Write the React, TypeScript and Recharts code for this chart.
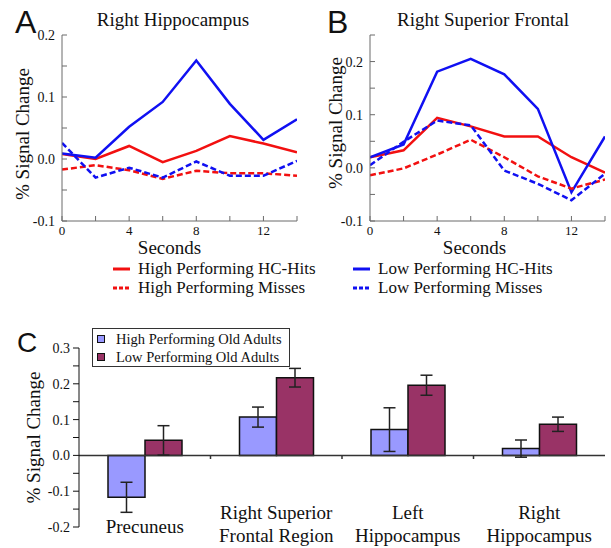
import React from 'react';
import { LineChart, Line, XAxis, YAxis, BarChart, Bar, ErrorBar, ReferenceLine, Legend } from 'recharts';

const SERIF = '"Liberation Serif", "Times New Roman", serif';
const SANS = '"Liberation Sans", Arial, sans-serif';

const SECONDS = [0, 2, 4, 6, 8, 10, 12, 14];

// Right Hippocampus (panel A)
const HIPPO_HIGH_HITS = [0.008, 0.0, 0.021, -0.005, 0.013, 0.037, 0.025, 0.011];
const HIPPO_HIGH_MISSES = [-0.017, -0.01, -0.018, -0.032, -0.019, -0.023, -0.023, -0.027];
const HIPPO_LOW_HITS = [0.009, 0.002, 0.052, 0.092, 0.159, 0.089, 0.031, 0.064];
const HIPPO_LOW_MISSES = [0.026, -0.03, -0.014, -0.03, -0.004, -0.027, -0.027, -0.003];

// Right Superior Frontal (panel B)
const FRONTAL_HIGH_HITS = [0.02, 0.033, 0.094, 0.078, 0.059, 0.059, 0.02, -0.009];
const FRONTAL_HIGH_MISSES = [-0.014, -0.001, 0.025, 0.053, 0.02, -0.016, -0.039, -0.022];
const FRONTAL_LOW_HITS = [0.02, 0.044, 0.181, 0.205, 0.176, 0.111, -0.046, 0.059];
const FRONTAL_LOW_MISSES = [0.005, 0.049, 0.089, 0.08, -0.005, -0.03, -0.061, -0.011];

const HIPPO_Y_TICKS = [-0.1, -0.05, 0, 0.05, 0.1, 0.15, 0.2];
const FRONTAL_Y_TICKS = [-0.1, -0.05, 0, 0.05, 0.1, 0.15, 0.2, 0.25];

// panel C
const REGIONS = ['Precuneus', 'Right Superior\nFrontal Region', 'Left\nHippocampus', 'Right\nHippocampus'];
const HIGH_OLD = [-0.117, 0.107, 0.072, 0.019];
const HIGH_OLD_ERR = [0.042, 0.028, 0.061, 0.024];
const LOW_OLD = [0.042, 0.217, 0.196, 0.087];
const LOW_OLD_ERR = [0.041, 0.026, 0.028, 0.02];
const BAR_Y_TICKS = [-0.2, -0.15, -0.1, -0.05, 0, 0.05, 0.1, 0.15, 0.2, 0.25, 0.3];
const REGION_BOUNDS = [1, 2, 3];

const RED = '#f21010';
const BLUE = '#1010f2';
const FRAME = '#6a6a6a';

const LINE_STYLE: Record<string, { name: string; color: string; dash?: string }> = {
  highHits: { name: 'High Performing HC-Hits', color: RED },
  lowHits: { name: 'Low Performing HC-Hits', color: BLUE },
  highMisses: { name: 'High Performing Misses', color: RED, dash: '6 3' },
  lowMisses: { name: 'Low Performing Misses', color: BLUE, dash: '6 3' },
};

const makeRows = (hh: number[], hm: number[], lh: number[], lm: number[]) =>
  SECONDS.map((t, i) => ({ t, highHits: hh[i], lowHits: lh[i], highMisses: hm[i], lowMisses: lm[i] }));

const hippoRows = makeRows(HIPPO_HIGH_HITS, HIPPO_HIGH_MISSES, HIPPO_LOW_HITS, HIPPO_LOW_MISSES);
const frontalRows = makeRows(FRONTAL_HIGH_HITS, FRONTAL_HIGH_MISSES, FRONTAL_LOW_HITS, FRONTAL_LOW_MISSES);

const barRows = REGIONS.map((region, i) => ({
  region,
  pos: i + 0.5,
  high: HIGH_OLD[i],
  highErr: HIGH_OLD_ERR[i],
  low: LOW_OLD[i],
  lowErr: LOW_OLD_ERR[i],
}));

const isMajor = (v: number) => Math.abs(v * 10 - Math.round(v * 10)) < 1e-6;
const fmtSignal = (v: number) => (isMajor(v) ? v.toFixed(1) : '');
const fmtSeconds = (v: number) => (v % 4 === 0 ? String(v) : '');

const LineLegend = () => (
  <div
    style={{
      display: 'grid',
      gridTemplateColumns: '240px 220px',
      gridAutoRows: '19px',
      fontFamily: SERIF,
      fontSize: 17,
      color: '#111',
    }}
  >
    {Object.keys(LINE_STYLE).map((k) => {
      const s = LINE_STYLE[k];
      return (
        <div key={k} style={{ display: 'flex', alignItems: 'center', whiteSpace: 'nowrap' }}>
          <svg width={25} height={8}>
            <line x1={0} x2={17} y1={4} y2={4} stroke={s.color} strokeWidth={3} strokeDasharray={s.dash ? '4 2' : undefined} />
          </svg>
          <span>{s.name}</span>
        </div>
      );
    })}
  </div>
);

const BarLegend = () => (
  <div
    style={{
      border: '1.5px solid #333',
      width: 192,
      height: 36,
      padding: '1px 0 0 4px',
      fontFamily: SERIF,
      fontSize: 14.5,
      color: '#111',
      background: '#fff',
      boxSizing: 'content-box',
    }}
  >
    {[
      { name: 'High Performing Old Adults', fill: '#9999ff' },
      { name: 'Low Performing Old Adults', fill: '#993366' },
    ].map((it) => (
      <div key={it.name} style={{ display: 'flex', alignItems: 'center', height: 18, whiteSpace: 'nowrap' }}>
        <span
          style={{
            display: 'inline-block',
            width: 6,
            height: 6,
            border: '1px solid #111',
            background: it.fill,
            marginRight: 11,
          }}
        />
        <span>{it.name}</span>
      </div>
    ))}
  </div>
);

const RegionTick = (props: any) => {
  const { x, y, payload } = props;
  const lines = String(payload.value).split('\n');
  const offsets = lines.length === 1 ? [-1] : [-15, 8];
  return (
    <g>
      {lines.map((l, i) => (
        <text
          key={i}
          x={x}
          y={y + offsets[i]}
          textAnchor="middle"
          dominantBaseline="central"
          fontFamily={SERIF}
          fontSize={19}
          fill="#111"
        >
          {l}
        </text>
      ))}
    </g>
  );
};

type PanelProps = {
  rows: any[];
  width: number;
  axisWidth: number;
  rightGap: number;
  yDomain: [number, number];
  yTicks: number[];
  labelOffset: number;
  labelDy: number;
  secondsDx: number;
  withLegend?: boolean;
};

const TimeCoursePanel = ({ rows, width, axisWidth, rightGap, yDomain, yTicks, labelOffset, labelDy, secondsDx, withLegend }: PanelProps) => (
  <LineChart width={width} height={260} data={rows} margin={{ top: 35, right: rightGap, bottom: 0, left: 0 }}>
    <XAxis
      xAxisId="bottom"
      dataKey="t"
      type="number"
      domain={[0, 14]}
      allowDataOverflow
      ticks={SECONDS}
      tickFormatter={fmtSeconds}
      height={39}
      tickSize={-5}
      tickMargin={10}
      stroke={FRAME}
      tick={{ fill: '#111', fontSize: 13, fontFamily: SERIF }}
      label={{ value: 'Seconds', position: 'insideBottom', offset: 6, dx: secondsDx, fill: '#111', fontSize: 19, fontFamily: SERIF }}
    />
    <XAxis
      xAxisId="top"
      orientation="top"
      dataKey="t"
      type="number"
      domain={[0, 14]}
      allowDataOverflow
      ticks={SECONDS}
      height={0}
      tickSize={-5}
      tick={false}
      stroke={FRAME}
    />
    <YAxis
      yAxisId="left"
      type="number"
      domain={yDomain}
      allowDataOverflow
      ticks={yTicks}
      tickFormatter={fmtSignal}
      width={axisWidth}
      tickSize={-5}
      tickMargin={12}
      stroke={FRAME}
      tick={{ fill: '#111', fontSize: 14, fontFamily: SERIF }}
      label={{
        value: '% Signal Change',
        angle: -90,
        position: 'insideLeft',
        offset: labelOffset,
        dy: labelDy,
        fill: '#111',
        fontSize: 19,
        fontFamily: SERIF,
        style: { textAnchor: 'middle' },
      }}
    />
    <YAxis
      yAxisId="right"
      orientation="right"
      type="number"
      domain={yDomain}
      allowDataOverflow
      ticks={yTicks}
      width={0}
      tickSize={-5}
      tick={false}
      stroke={FRAME}
    />
    {Object.keys(LINE_STYLE).map((k) => (
      <Line
        key={k}
        xAxisId="bottom"
        yAxisId="left"
        type="linear"
        dataKey={k}
        name={LINE_STYLE[k].name}
        stroke={LINE_STYLE[k].color}
        strokeWidth={2.5}
        strokeDasharray={LINE_STYLE[k].dash}
        dot={false}
        isAnimationActive={false}
      />
    ))}
    {withLegend && (
      <Legend
        layout="vertical"
        align="center"
        verticalAlign="middle"
        content={() => <LineLegend />}
        wrapperStyle={{ left: 113, top: 259.5, width: 480, height: 38 }}
      />
    )}
  </LineChart>
);

export default function App() {
  return (
    <div style={{ position: 'absolute', left: 0, top: 0, width: 611, height: 548, background: '#fff', overflow: 'hidden' }}>
      <div style={{ position: 'absolute', left: 0, top: 0 }}>
        <TimeCoursePanel
          rows={hippoRows}
          width={305}
          axisWidth={62}
          rightGap={8}
          yDomain={[-0.1, 0.2]}
          yTicks={HIPPO_Y_TICKS}
          labelOffset={22}
          labelDy={6}
          secondsDx={-10}
          withLegend
        />
      </div>
      <div style={{ position: 'absolute', left: 305, top: 0 }}>
        <TimeCoursePanel
          rows={frontalRows}
          width={306}
          axisWidth={65}
          rightGap={6}
          yDomain={[-0.1, 0.25]}
          yTicks={FRONTAL_Y_TICKS}
          labelOffset={30}
          labelDy={-5}
          secondsDx={-13}
        />
      </div>
      <div style={{ position: 'absolute', left: 0, top: 300 }}>
        <BarChart width={611} height={248} data={barRows} margin={{ top: 48, right: 6, bottom: 0, left: 0 }} barGap={0} barSize={37}>
          <XAxis dataKey="region" height={21} axisLine={false} tickLine={false} tickSize={0} tickMargin={0} interval={0} tick={<RegionTick />} />
          <XAxis xAxisId="pos" type="number" dataKey="pos" domain={[0, 4]} allowDataOverflow hide />
          <YAxis
            type="number"
            domain={[-0.2, 0.3]}
            allowDataOverflow
            ticks={BAR_Y_TICKS}
            tickFormatter={fmtSignal}
            width={79}
            tickSize={6}
            tickMargin={3}
            stroke="#111"
            tick={{ fill: '#111', fontSize: 14, fontFamily: SERIF }}
            label={{
              value: '% Signal Change',
              angle: -90,
              position: 'insideLeft',
              offset: 33,
              fill: '#111',
              fontSize: 19,
              fontFamily: SERIF,
              style: { textAnchor: 'middle' },
            }}
          />
          <ReferenceLine y={0} stroke="#333" strokeWidth={1.5} />
          {REGION_BOUNDS.map((b) => (
            <ReferenceLine
              key={b}
              xAxisId="pos"
              segment={[
                { x: b, y: 0 },
                { x: b, y: -0.01 },
              ]}
              stroke="#333"
              strokeWidth={1.5}
            />
          ))}
          <Bar dataKey="high" name="High Performing Old Adults" fill="#9999ff" stroke="#111" strokeWidth={1.5} isAnimationActive={false}>
            <ErrorBar dataKey="highErr" direction="y" width={6} stroke="#222" strokeWidth={1.5} />
          </Bar>
          <Bar dataKey="low" name="Low Performing Old Adults" fill="#993366" stroke="#111" strokeWidth={1.5} isAnimationActive={false}>
            <ErrorBar dataKey="lowErr" direction="y" width={6} stroke="#222" strokeWidth={1.5} />
          </Bar>
          <Legend
            layout="vertical"
            align="center"
            verticalAlign="middle"
            content={() => <BarLegend />}
            wrapperStyle={{ left: 92, top: 28, width: 200, height: 40 }}
          />
        </BarChart>
      </div>
      <svg width={611} height={548} style={{ position: 'absolute', left: 0, top: 0, pointerEvents: 'none' }}>
        <text x={15} y={33} fontFamily={SANS} fontSize={32} fill="#111">A</text>
        <text x={327} y={33} fontFamily={SANS} fontSize={32} fill="#111">B</text>
        <text x={17} y={352} fontFamily={SANS} fontSize={28} fill="#111">C</text>
        <text x={173} y={26} textAnchor="middle" fontFamily={SERIF} fontSize={19} fill="#111">Right Hippocampus</text>
        <text x={483} y={26} textAnchor="middle" fontFamily={SERIF} fontSize={19} fill="#111">Right Superior Frontal</text>
      </svg>
    </div>
  );
}
